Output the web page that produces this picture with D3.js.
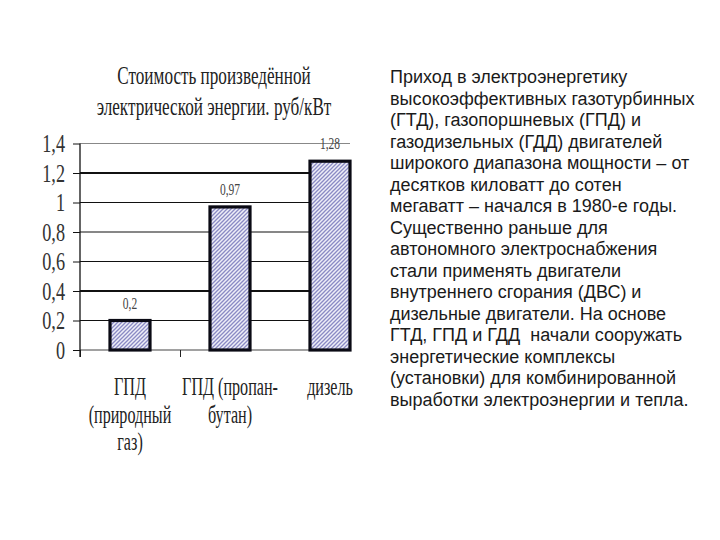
<!DOCTYPE html>
<html>
<head>
<meta charset="utf-8">
<script src="https://cdn.jsdelivr.net/npm/d3@7"></script>
<style>
  body { margin: 0; background: #fff; }
  svg { display: block; }
</style>
</head>
<body>
<svg id="drawing_region"></svg>
<script>
// data
const categories = ["ГПД (природный газ)", "ГПД (пропан-бутан)", "дизель"];
const catLines = [["ГПД", "(природный", "газ)"], ["ГПД (пропан-", "бутан)"], ["дизель"]];
const values = [0.2, 0.97, 1.28];
const titleLines = ["Стоимость произведённой", "электрической энергии. руб/кВт"];
const yTicks = [0, 0.2, 0.4, 0.6, 0.8, 1, 1.2, 1.4];
const sideText = [
  "Приход в электроэнергетику",
  "высокоэффективных газотурбинных",
  "(ГТД), газопоршневых (ГПД) и",
  "газодизельных (ГДД) двигателей",
  "широкого диапазона мощности – от",
  "десятков киловатт до сотен",
  "мегаватт – начался в 1980-е годы.",
  "Существенно раньше для",
  "автономного электроснабжения",
  "стали применять двигатели",
  "внутреннего сгорания (ДВС) и",
  "дизельные двигатели. На основе",
  "ГТД, ГПД и ГДД  начали сооружать",
  "энергетические комплексы",
  "(установки) для комбинированной",
  "выработки электроэнергии и тепла."
];

const W = 720, H = 540;
const plot = { left: 80, right: 350, full: 380, top: 143.5, bottom: 350 };
const serif = "'Liberation Serif', 'Times New Roman', serif";
const ru = d3.formatLocale({ decimal: ",", thousands: " ", grouping: [3], currency: ["", ""] });
const fmt = ru.format("~g");

const svg = d3.select('#drawing_region')
  .attr('width', W)
  .attr('height', H);

// hatch fill for the bars
const defs = svg.append('defs');
const pat = defs.append('pattern')
  .attr('id', 'hatch')
  .attr('patternUnits', 'userSpaceOnUse')
  .attr('width', 4).attr('height', 4);
pat.append('rect').attr('width', 4).attr('height', 4).attr('fill', '#eeeef8');
pat.append('path')
  .attr('d', 'M-1,1 l2,-2 M0,4 l4,-4 M3,5 l2,-2')
  .attr('stroke', '#8a8ac4')
  .attr('stroke-width', 1.3);

const x = d3.scaleBand()
  .domain(categories)
  .range([plot.left, plot.full])
  .paddingInner(0.6)
  .paddingOuter(0.3);

const y = d3.scaleLinear()
  .domain([0, 1.4])
  .range([plot.bottom, plot.top]);

// title
svg.append('g').selectAll('text')
  .data(titleLines)
  .join('text')
  .attr('transform', (d, i) => `translate(214, ${84 + i * 31}) scale(0.66, 1)`)
  .attr('text-anchor', 'middle')
  .attr('font-family', serif)
  .attr('font-size', 26)
  .attr('fill', '#222')
  .text(d => d);

// gridlines
svg.append('g').selectAll('line')
  .data(yTicks.filter(d => d > 0))
  .join('line')
  .attr('x1', plot.left).attr('x2', plot.right)
  .attr('y1', d => y(d)).attr('y2', d => y(d))
  .attr('stroke', d => d === 1.4 ? '#888' : '#111')
  .attr('stroke-width', d => (d === 0.4 || d === 1.2) ? 2 : 1.2);

// x baseline
svg.append('line')
  .attr('x1', plot.left).attr('x2', plot.right)
  .attr('y1', y(0)).attr('y2', y(0))
  .attr('stroke', '#444').attr('stroke-width', 1.2);

// category boundary ticks
const xb = d3.scaleLinear().domain([0, 3]).range([plot.left, plot.full]);
svg.append('g')
  .attr('transform', `translate(0, ${y(0)})`)
  .call(d3.axisBottom(xb).tickValues([0, 1]).tickSize(7).tickFormat(''))
  .call(g => g.select('.domain').remove())
  .call(g => g.selectAll('line').attr('stroke', '#222'));

// y axis
const yAxis = svg.append('g')
  .attr('transform', `translate(${plot.left}, 0)`)
  .call(d3.axisLeft(y).tickValues(yTicks).tickSize(7).tickPadding(8).tickFormat(fmt));
yAxis.select('.domain').attr('stroke', '#111').attr('stroke-width', 1.3)
  .attr('d', `M0,${plot.top}V${plot.bottom + 7}`);
yAxis.selectAll('.tick line').attr('stroke', '#111');
yAxis.selectAll('.tick text')
  .attr('transform', 'scale(0.7, 1)')
  .attr('x', -15 / 0.7)
  .attr('font-family', serif)
  .attr('font-size', 26)
  .attr('fill', '#333');

// bars
svg.append('g').selectAll('rect')
  .data(values)
  .join('rect')
  .attr('x', (d, i) => x(categories[i]))
  .attr('y', d => y(d))
  .attr('width', x.bandwidth())
  .attr('height', d => y(0) - y(d))
  .attr('fill', 'url(#hatch)')
  .attr('stroke', '#0a0a14')
  .attr('stroke-width', 3.2);

// value labels
svg.append('g').selectAll('text')
  .data(values)
  .join('text')
  .attr('transform', (d, i) => `translate(${x(categories[i]) + x.bandwidth() / 2}, ${y(d) - 12}) scale(0.72, 1)`)
  .attr('text-anchor', 'middle')
  .attr('font-family', serif)
  .attr('font-size', 16)
  .attr('fill', '#444')
  .text(d => fmt(d));

// category labels
const cat = svg.append('g').selectAll('g')
  .data(catLines)
  .join('g')
  .attr('transform', (d, i) => `translate(${x(categories[i]) + x.bandwidth() / 2}, 0)`);
cat.selectAll('text')
  .data(d => d)
  .join('text')
  .attr('transform', (d, j) => `translate(0, ${395 + j * 27.5}) scale(0.62, 1)`)
  .attr('text-anchor', 'middle')
  .attr('font-family', serif)
  .attr('font-size', 26)
  .attr('fill', '#222')
  .text(d => d);

// text on the right
svg.append('g').selectAll('text')
  .data(sideText)
  .join('text')
  .attr('x', 390)
  .attr('y', (d, i) => 83 + i * 21.5)
  .attr('font-family', "'Liberation Sans', Arial, sans-serif")
  .attr('font-size', 18)
  .attr('fill', '#1a1a1a')
  .attr('xml:space', 'preserve')
  .text(d => d);
</script>
</body>
</html>
